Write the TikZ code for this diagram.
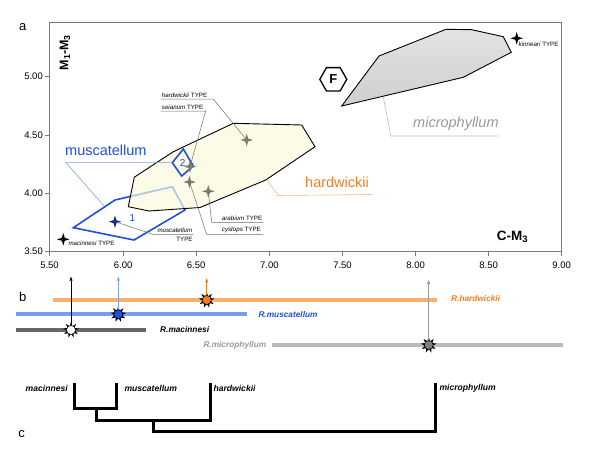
\documentclass[tikz,border=0pt]{standalone}
\usepackage{fontspec}
\setmainfont{Liberation Sans}
\usetikzlibrary{shapes.geometric,arrows.meta}
\definecolor{mblue}{HTML}{1F4FE0}
\definecolor{lblue}{HTML}{7F9FEF}
\definecolor{barblue}{HTML}{7C9CEE}
\definecolor{orng}{HTML}{F57F20}
\definecolor{lorng}{HTML}{F8B68A}
\definecolor{barorng}{HTML}{F9B06A}
\definecolor{hardfill}{HTML}{FAFADC}
\definecolor{microfill}{HTML}{D9D9D9}
\definecolor{olivestar}{HTML}{7D7C6C}
\definecolor{navystar}{HTML}{1A2A7A}
\definecolor{microtxt}{HTML}{9A9A9A}
\definecolor{barlgray}{HTML}{BBBBBB}
\definecolor{bardgray}{HTML}{666666}
\definecolor{axisgray}{HTML}{7A7A7A}
\definecolor{leadgray}{HTML}{707070}
\tikzset{
  tlab/.style={inner sep=0pt, font=\fontsize{6.2}{7}\selectfont, anchor=west},
  tstar/.style={star, star points=4, star point ratio=3, minimum size=12.5pt, inner sep=0pt, draw=none},
  leader/.style={draw=leadgray, line width=0.5pt},
  biglab/.style={inner sep=0pt, font=\fontsize{14.5}{16}\selectfont, anchor=west},
  barlab/.style={inner sep=0pt, font=\fontsize{8.3}{9}\selectfont\bfseries\itshape, anchor=west},
  treelab/.style={inner sep=0pt, font=\fontsize{8.6}{9}\selectfont\bfseries\itshape},
  ticklab/.style={inner sep=0pt, font=\fontsize{9.5}{10}\selectfont},
  panel/.style={inner sep=0pt, font=\fontsize{13}{14}\selectfont},
  burst/.style={star, star points=9, star point ratio=2, minimum size=16pt, inner sep=0pt, fill=black, draw=none},
  burstdot/.style={circle, minimum size=9pt, inner sep=0pt, draw=black, line width=0.5pt},
  bar/.style={line width=4pt},
  tree/.style={line width=3pt, line join=miter, line cap=rect},
  upar/.style={line width=0.5pt, -{Triangle[length=4pt,width=3pt]}}
}
\begin{document}
\begin{tikzpicture}[x=1pt,y=-1pt]
\useasboundingbox (0,0) rectangle (600,450);
\fill[white] (0,0) rectangle (600,450);

% ---------- panel a ----------
\node[panel] (pa) at (22.7,26.7) {a};

% muscatellum polygon 1 (below hardwickii)
\draw[mblue, line width=1.6pt, line join=miter] (73.3,227.7) -- (115,200) -- (172.3,186.7) -- (185,210) -- (134,240) -- cycle;

% hardwickii polygon
\fill[hardfill, fill opacity=0.68] (134.3,177.2) -- (173.3,151.7) -- (233.3,123.3) -- (301.7,125) -- (315,146.7) -- (265.7,180) -- (200,207.5) -- (149,211) -- (128.3,206.7) -- cycle;
\draw[black, line width=0.9pt] (134.3,177.2) -- (173.3,151.7) -- (233.3,123.3) -- (301.7,125) -- (315,146.7) -- (265.7,180) -- (200,207.5) -- (149,211) -- (128.3,206.7) -- cycle;

% microphyllum polygon
\draw[black, line width=0.9pt, top color=gray!22, bottom color=gray!38] (341.7,106) -- (379,56) -- (446,29.3) -- (471.7,29.7) -- (503.3,36.7) -- (511.3,52.3) -- (463.3,77.3) -- cycle;

% diamond 2
\draw[mblue, line width=1.6pt, line join=miter] (172.3,162.7) -- (183.3,149) -- (193.3,166) -- (181.7,176) -- cycle;
\node[inner sep=0pt, text=mblue, font=\fontsize{10}{11}\selectfont] (n2) at (182.7,163) {2};
\node[inner sep=0pt, text=mblue, font=\fontsize{10}{11}\selectfont] (n1) at (132.3,218.3) {1};

% big labels and their leaders
\node[biglab, text=mblue] (lmus) at (65,150.7) {muscatellum};
\draw[lblue, line width=0.6pt] (172.3,162.3) -- (65.7,162.3) -- (104,206);
\node[biglab, text=orng] (lhar) at (305,182.7) {hardwickii};
\draw[lorng, line width=0.6pt] (266.7,180) -- (278.3,195.5) -- (371.7,194.5);
\node[biglab, text=microtxt, font=\fontsize{14.5}{16}\selectfont\itshape] (lmic) at (413,124) {microphyllum};
\draw[barlgray, line width=0.6pt] (383.3,96.7) -- (390.7,136) -- (498.3,136);

% F hexagon
\draw[black, line width=1.3pt] (319.8,79.3) -- (326.5,67.6) -- (340.1,67.6) -- (346.8,79.3) -- (340.1,91) -- (326.5,91) -- cycle;
\node[inner sep=0pt, font=\fontsize{13}{14}\selectfont\bfseries] (F) at (333.3,79.3) {F};

% type stars
\node[tstar, fill=olivestar] (shw) at (246.7,140) {};
\node[tstar, fill=olivestar] (sse) at (190,166.5) {};
\node[tstar, fill=olivestar] (scy) at (189.5,182) {};
\node[tstar, fill=olivestar] (sar) at (208.3,191.3) {};
\node[tstar, fill=navystar] (smu) at (115,221.7) {};
\node[tstar, fill=black] (sma) at (63.3,239.3) {};
\node[tstar, fill=black] (ski) at (516.7,38.3) {};

% type labels
\node[tlab] (thw) at (161.7,95.5) {\textit{hardwickii} TYPE};
\draw[leader] (160.7,99) -- (213.3,99) -- (shw.center);
\node[tlab] (tse) at (161.7,107.5) {\textit{seianum} TYPE};
\draw[leader] (160.7,111) -- (205.7,111) -- (sse.center);
\node[tlab] (tar) at (221.7,218.5) {\textit{arabium} TYPE};
\draw[leader] (263.3,222.3) -- (211.7,222.3) -- (sar.center);
\node[tlab] (tcy) at (221.7,230.5) {\textit{cystops} TYPE};
\draw[leader] (263.3,234.3) -- (206.7,234.3) -- (scy.center);
\node[tlab] (tmu) at (157.3,230.6) {\textit{muscatellum}};
\node[tlab, anchor=east] (tmu2) at (192.8,239.2) {TYPE};
\draw[leader] (smu.center) -- (154,234.6) -- (193,234.6);
\node[tlab] (tma) at (68.3,243.2) {\textit{macinnesi} TYPE};
\node[tlab] (tki) at (518.5,44) {\textit{kinneari} TYPE};

% axes
\draw[axisgray, line width=0.8pt] (49.5,22.3) rectangle (561.7,251);
\foreach \v/\px in {5.50/49.5,6.00/123.1,6.50/196.2,7.00/269.4,7.50/342.5,8.00/415.6,8.50/488.6,9.00/561.7}{
  \draw[axisgray, line width=0.8pt] (\px,251) -- (\px,255.5);
  \node[ticklab] at (\px,265.5) {\v};
}
\foreach \v/\py in {5.00/76.4,4.50/135,4.00/193.4,3.50/251}{
  \draw[axisgray, line width=0.8pt] (44.5,\py) -- (49.5,\py);
  \node[ticklab, anchor=east] at (43,\py) {\v};
}
\node[inner sep=0pt, rotate=90, font=\fontsize{12.5}{13}\selectfont\bfseries] (ylab) at (65,52.5) {M\textsubscript{1}-M\textsubscript{3}};
\node[inner sep=0pt, font=\fontsize{13.5}{14}\selectfont\bfseries] (xlab) at (512.5,237) {C-M\textsubscript{3}};

% ---------- panel b ----------
\node[panel] (pb) at (22.7,296.5) {b};
\draw[bar, barorng] (53.3,300) -- (436.7,300);
\draw[bar, barblue] (16,314.3) -- (247.3,314.3);
\draw[bar, bardgray] (16,330) -- (145.7,330);
\draw[bar, barlgray] (271.7,345) -- (562.7,345);
\node[barlab, text=orng] (rhar) at (451,298.5) {R.hardwickii};
\node[barlab, text=mblue] (rmus) at (258.3,314.5) {R.muscatellum};
\node[barlab, text=black] (rmac) at (160,329.5) {R.macinnesi};
\node[barlab, text=microtxt] (rmic) at (203.3,345) {R.microphyllum};

\coordinate (amac) at (71,276.7);
\coordinate (amus) at (118.3,276.7);
\coordinate (ahar) at (206.7,278.3);
\coordinate (amic) at (428.7,280);
\node[burst] (bmac) at (71,330) {};
\node[burst] (bmus) at (118.3,314.3) {};
\node[burst] (bhar) at (206.7,300) {};
\node[burst] (bmic) at (428.7,345) {};
\draw[upar, black] (bmac.center) -- (amac);
\draw[upar, lblue] (bmus.center) -- (amus);
\draw[upar, orng] (bhar.center) -- (ahar);
\draw[upar, microtxt] (bmic.center) -- (amic);
\node[burstdot, fill=white] at (bmac.center) {};
\node[burstdot, fill=mblue] at (bmus.center) {};
\node[burstdot, fill=orng] at (bhar.center) {};
\node[burstdot, fill=gray] at (bmic.center) {};

% ---------- panel c ----------
\node[panel] (pc) at (21.7,434) {c};
\node[treelab, anchor=east] (cmac) at (68,388.3) {macinnesi};
\node[treelab, anchor=west] (cmus) at (124.3,388.3) {muscatellum};
\node[treelab, anchor=west] (char) at (213.3,388.3) {hardwickii};
\node[treelab, anchor=west] (cmic) at (439.3,388.3) {microphyllum};
\draw[tree] (74.3,384) -- (74.3,408.3) -- (116.7,408.3) -- (116.7,384);
\draw[tree] (96,408.3) -- (96,420) -- (210,420) -- (210,384);
\draw[tree] (153.3,420) -- (153.3,431.7) -- (435,431.7) -- (435,384);
\end{tikzpicture}
\end{document}
